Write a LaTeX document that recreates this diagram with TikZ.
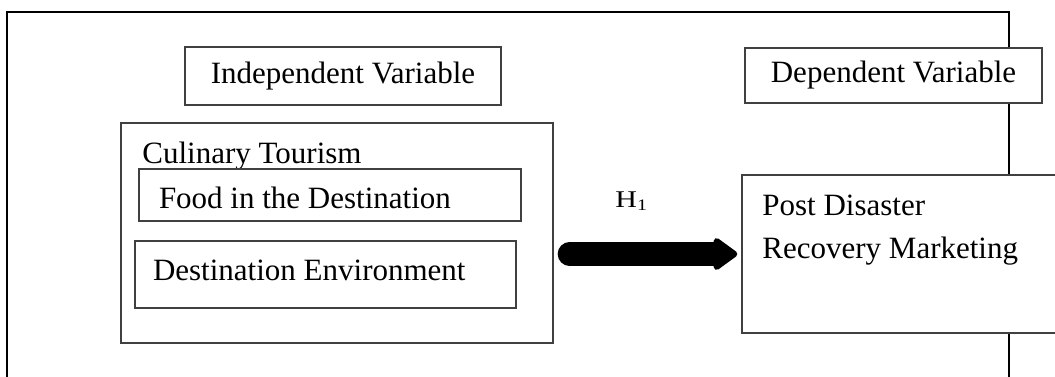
\documentclass[tikz,border=0pt]{standalone}
\usepackage{fontspec}
\setmainfont{Liberation Serif}
\usepackage{graphicx}
\usetikzlibrary{arrows.meta,positioning}
\newcommand{\varfont}{\fontsize{15.5pt}{21.5pt}\selectfont}
\tikzset{
  frame/.style={line width=1pt},
  varbox/.style={draw=black!75, line width=0.65pt, fill=white, inner sep=0pt},
  itembox/.style={varbox, align=flush left, inner xsep=#1},
  flow arrow/.style={line width=12pt, line cap=round,
    -{Triangle[round, line width=3pt, length=13pt, width=18pt]}},
}

\begin{document}
\begin{tikzpicture}[x=0.5pt, y=-0.5pt, every node/.style={font=\varfont}]

  \useasboundingbox (0,0) rectangle (1055,376);
  \fill[white] (0,0) rectangle (1055,376);
  \clip (0,0) rectangle (1055,376);

  % Outer frame (open at the bottom)
  \draw[frame] (7,390) -- (7,12) -- (1009,12) -- (1009,390);

  % Headings
  \node[varbox, minimum width=158pt, minimum height=29pt] (indep) at (343,76) {Independent Variable};
  \node[varbox, minimum width=148.5pt, minimum height=27.5pt] (dep) at (893.5,75.5) {Dependent Variable};

  % Independent variable and its dimensions
  \node[varbox, minimum width=216pt, minimum height=110pt] (culin) at (337,233) {};
  \node[anchor=base west, inner sep=0pt] (culinlbl) at (142,163) {Culinary Tourism};
  \node[itembox=10pt, text width=171pt, minimum height=26pt, text height=14pt, text depth=1pt]
    (food) at (330,195) {Food in the Destination};
  \node[itembox=9pt, text width=172.5pt, minimum height=33.5pt, text height=10pt, text depth=4.5pt]
    (envr) at (325.5,274.5) {Destination Environment};

  % Dependent variable
  \node[varbox, minimum width=160pt, minimum height=79pt] (post) at (902,254) {};
  \node[anchor=base west, align=left, inner sep=0pt] (posttxt) at (762,258)
    {Post Disaster\\Recovery Marketing};

  % Hypothesis
  \draw[flow arrow, shorten <=8pt, shorten >=2pt] (culin.east |- post.west) -- (post.west);
  \node[anchor=base west, inner sep=0pt, font=\fontsize{12pt}{14pt}\selectfont] (hyp) at (615,207)
    {\scalebox{1.25}[1]{H\textsubscript{1}}};

\end{tikzpicture}
\end{document}
